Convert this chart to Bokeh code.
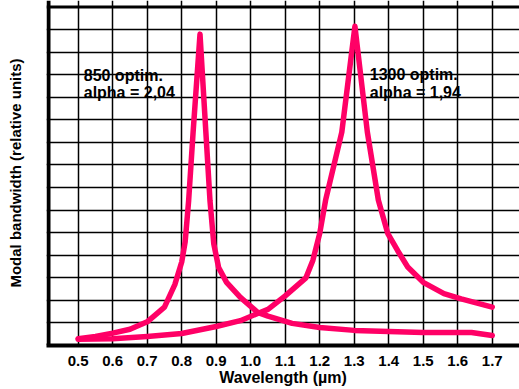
from bokeh.plotting import figure
from bokeh.models import Range1d, FixedTicker, Span, ColumnDataSource
from bokeh.core.properties import value
from bokeh.embed import file_html
from bokeh.resources import INLINE

# ---- data ----
wl_850 = [0.50, 0.55, 0.60, 0.65, 0.70, 0.75, 0.78, 0.80, 0.81, 0.82, 0.833, 0.853,
          0.870, 0.882, 0.893, 0.907, 0.93, 0.97, 1.02, 1.05, 1.12, 1.20, 1.30, 1.40,
          1.50, 1.64, 1.70]
bw_850 = [0.30, 0.40, 0.55, 0.72, 1.05, 1.70, 2.70, 3.70, 4.60, 6.40, 9.45, 13.8,
          9.45, 6.40, 4.50, 3.45, 2.80, 2.13, 1.47, 1.30, 0.98, 0.80, 0.67, 0.62,
          0.58, 0.58, 0.44]

wl_1300 = [0.50, 0.60, 0.70, 0.80, 0.90, 0.97, 1.02, 1.05, 1.10, 1.16, 1.18, 1.20,
           1.217, 1.264, 1.302, 1.338, 1.37, 1.397, 1.426, 1.455, 1.50, 1.56, 1.61, 1.70]
bw_1300 = [0.28, 0.30, 0.40, 0.53, 0.84, 1.10, 1.42, 1.60, 2.20, 3.00, 3.77, 4.97,
           6.44, 9.46, 14.15, 9.46, 6.44, 4.97, 4.20, 3.48, 2.80, 2.30, 2.07, 1.70]

x_ticks = [0.5, 0.6, 0.7, 0.8, 0.9, 1.0, 1.1, 1.2, 1.3, 1.4, 1.5, 1.6, 1.7]
x_tick_labels = ["0.5", "0.6", "0.7", "0.8", "0.9", "1.0", "1.1", "1.2", "1.3",
                 "1.4", "1.5", "1.6", "1.7"]
y_grid = [1, 2, 3, 4, 5, 6, 7, 8, 9, 10, 11, 12, 13, 14]

ann_x = [0.516, 1.345]
ann_line1 = ["850 optim.", "1300 optim."]
ann_line2 = ["alpha = 2,04", "alpha = 1,94"]
ann_y1 = [11.97, 11.99]
ann_y2 = [11.22, 11.22]

FONT = "Liberation Sans"
PINK = "#ff0066"

X_START = 0.4081
LEFT_EDGE = 0.4139

p = figure(width=519, height=389, output_backend="svg", toolbar_location=None,
           x_range=Range1d(X_START, 1.779), y_range=Range1d(0, 15.29),
           min_border_left=46, min_border_right=0, min_border_top=0,
           min_border_bottom=44)
p.outline_line_color = None
p.background_fill_color = "white"

# grid: vertical lines from the x grid, horizontal lines as clipped spans
p.xgrid.ticker = FixedTicker(ticks=x_ticks)
p.xgrid.grid_line_color = "black"
p.xgrid.grid_line_width = 1.5
p.ygrid.visible = False
p.hspan(y=y_grid, line_color="black", line_width=1.5, level="underlay")

# x axis
xa = p.xaxis[0]
xa.ticker = FixedTicker(ticks=x_ticks)
xa.major_label_overrides = {t: l for t, l in zip(x_ticks, x_tick_labels)}
xa.axis_line_width = 4
xa.axis_line_color = "black"
xa.major_tick_line_color = None
xa.minor_tick_line_color = None
xa.major_tick_out = 0
xa.major_tick_in = 0
xa.minor_tick_out = 0
xa.minor_tick_in = 0
xa.major_label_standoff = 10
xa.major_label_text_font = FONT
xa.major_label_text_font_style = "bold"
xa.major_label_text_font_size = "15px"
xa.major_label_text_line_height = 1.0
xa.major_label_text_color = "black"
xa.axis_label = "Wavelength (\u00b5m)"
xa.axis_label_text_font = FONT
xa.axis_label_text_font_style = "bold"
xa.axis_label_text_font_size = "16px"
xa.axis_label_text_line_height = 1.0
xa.axis_label_text_color = "black"
xa.axis_label_standoff = 0

# y axis (label only; the left border is a span)
ya = p.yaxis[0]
ya.ticker = FixedTicker(ticks=[])
ya.axis_line_color = None
ya.major_tick_line_color = None
ya.minor_tick_line_color = None
ya.major_tick_out = 0
ya.major_tick_in = 0
ya.minor_tick_out = 0
ya.minor_tick_in = 0
ya.major_label_text_font_size = "0px"
ya.major_label_standoff = 0
ya.axis_label = "Modal bandwidth (relative units)"
ya.axis_label_text_font = FONT
ya.axis_label_text_font_style = "bold"
ya.axis_label_text_font_size = "15px"
ya.axis_label_text_color = "black"
ya.axis_label_standoff = 23

# top and left border lines
p.add_layout(Span(location=15, dimension="width", line_color="black", line_width=3))
p.add_layout(Span(location=LEFT_EDGE, dimension="height", line_color="black", line_width=4))

# curves
p.line(wl_850, bw_850, line_color=PINK, line_width=5.5, line_join="round", line_cap="round")
p.line(wl_1300, bw_1300, line_color=PINK, line_width=5.5, line_join="round", line_cap="round")

# annotations
src = ColumnDataSource(dict(x=ann_x, y1=ann_y1, y2=ann_y2, t1=ann_line1, t2=ann_line2))
for ycol, tcol in (("y1", "t1"), ("y2", "t2")):
    p.text(x="x", y=ycol, text=tcol, source=src, text_font=value(FONT),
           text_font_style="bold", text_font_size="16px", text_color="black",
           text_baseline="alphabetic", text_align="left")

open("out.html", "w").write(file_html(p, INLINE))
